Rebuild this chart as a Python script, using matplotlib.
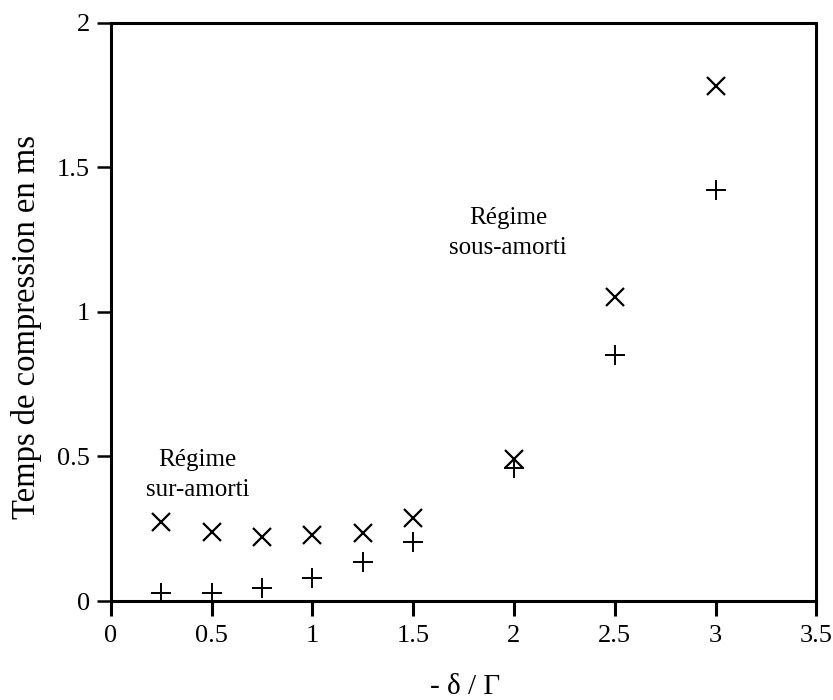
import matplotlib
matplotlib.use("Agg")
import matplotlib.pyplot as plt

# ----------------- Data -----------------
detuning = [0.25, 0.5, 0.75, 1.0, 1.25, 1.5, 2.0, 2.5, 3.0]
t_cross = [0.274, 0.240, 0.222, 0.228, 0.236, 0.286, 0.490, 1.050, 1.780]
t_plus = [0.027, 0.029, 0.044, 0.081, 0.134, 0.203, 0.460, 0.850, 1.420]

x_ticks = [0, 0.5, 1, 1.5, 2, 2.5, 3, 3.5]
x_tick_labels = ["0", "0.5", "1", "1.5", "2", "2.5", "3", "3.5"]
y_ticks = [0, 0.5, 1, 1.5, 2]
y_tick_labels = ["0", "0.5", "1", "1.5", "2"]

# ----------------- Plot -----------------
plt.rcParams["font.family"] = ["Liberation Serif", "DejaVu Serif"]

fig = plt.figure(figsize=(8.33, 7.0), dpi=100)
ax = fig.add_axes([0.133, 0.1414, 0.847, 0.826])

ax.plot(detuning, t_cross, linestyle="none", marker="x", markersize=13,
        markeredgewidth=1.6, color="black")
ax.plot(detuning, t_plus, linestyle="none", marker="+", markersize=15,
        markeredgewidth=1.4, color="black")

ax.set_xlim(0, 3.5)
ax.set_ylim(0, 2)
ax.set_xticks(x_ticks)
ax.set_xticklabels(x_tick_labels)
ax.set_yticks(y_ticks)
ax.set_yticklabels(y_tick_labels)

for side in ["left", "right", "top", "bottom"]:
    ax.spines[side].set_linewidth(2.2)
ax.tick_params(axis="x", direction="out", length=11, width=2.2, pad=6, labelsize=19)
ax.tick_params(axis="y", direction="out", length=10, width=1.8, pad=5, labelsize=19)

ax.set_xlabel("- δ / Γ", fontsize=21)
ax.xaxis.set_label_coords(0.502, -0.126)
ax.set_ylabel("Temps de compression en ms", fontsize=23.5)
ax.yaxis.set_label_coords(-0.097, 0.474)

ax.text(0.43, 0.436, "Régime\nsur-amorti", ha="center", va="center",
        fontsize=18, linespacing=1.45)
ax.text(1.97, 1.272, "Régime\nsous-amorti", ha="center", va="center",
        fontsize=18, linespacing=1.45)

fig.savefig("out.png", dpi=100)
